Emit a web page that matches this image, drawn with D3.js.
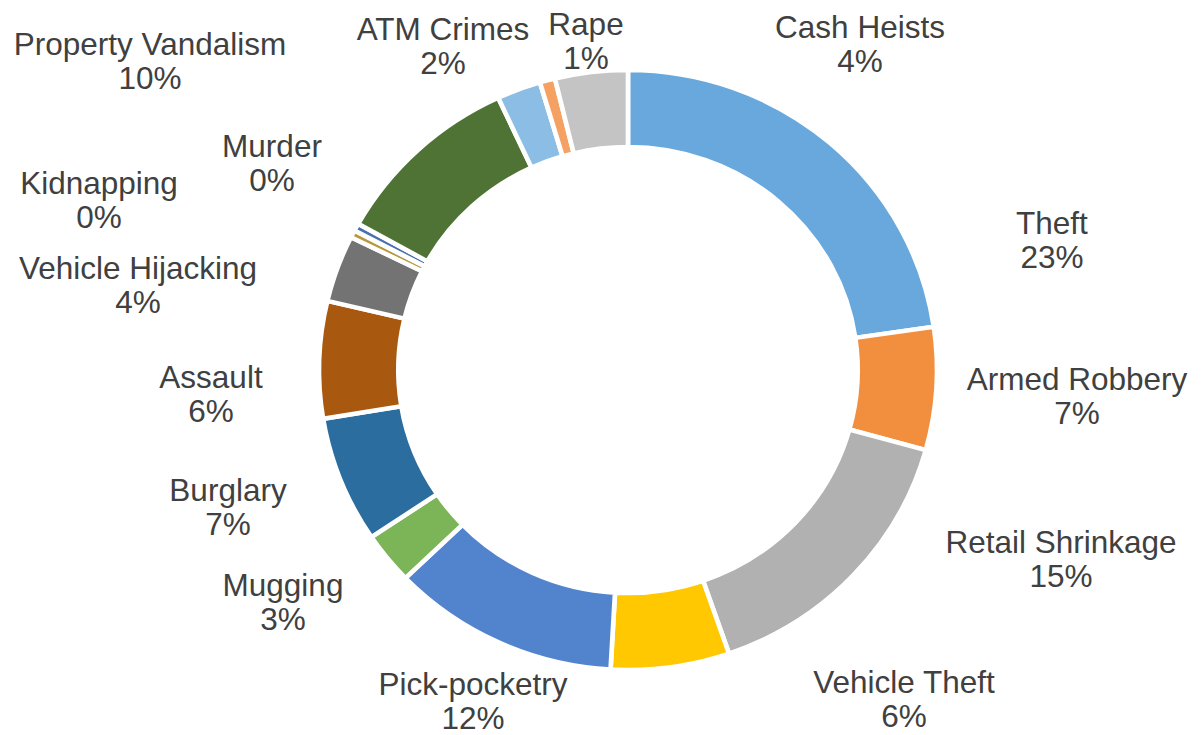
<!DOCTYPE html>
<html>
<head>
<meta charset="utf-8">
<script src="https://cdn.jsdelivr.net/npm/d3@7"></script>
<style>
  html, body { margin: 0; padding: 0; background: #ffffff; }
  svg { display: block; }
</style>
</head>
<body>
<svg id="chart" width="1203" height="735"></svg>
<script>
// ---- data ----
const categories = ["Theft", "Armed Robbery", "Retail Shrinkage", "Vehicle Theft", "Pick-pocketry",
  "Mugging", "Burglary", "Assault", "Vehicle Hijacking", "Kidnapping", "Murder",
  "Property Vandalism", "ATM Crimes", "Rape", "Cash Heists"];
const values = [22.7, 6.6, 15.4, 6.2, 11.9, 2.8, 6.8, 6.3, 3.6, 0.4, 0.4, 10.0, 2.3, 0.8, 3.8];

// ---- styles ----
const colors = ["#69A8DC", "#F28F3F", "#B1B1B1", "#FFC800", "#5284CE", "#7BB557", "#2A6D9E",
  "#A8580F", "#737373", "#B89A3E", "#4A70B0", "#4F7335", "#8CBDE5", "#F4A163", "#C4C4C4"];

// ---- layout: label block centres relative to the donut centre ----
const labelOffsets = [[424, -130], [449, 26], [433, 189], [276, 329], [-155, 331],
  [-345, 232], [-400, 137], [-417, 24], [-490, -85], [-529, -170], [-356, -207],
  [-478, -309], [-185, -324], [-42, -329], [232, -326]];

const W = 1203, H = 735;
const cx = 628, cy = 370;
const outerR = 300, innerR = 223;

const svg = d3.select("#chart");
const total = d3.sum(values);
const data = categories.map((c, i) => ({ name: c, value: values[i], color: colors[i], off: labelOffsets[i] }));

const pie = d3.pie().sort(null).value(d => d.value).startAngle(0).endAngle(2 * Math.PI);
const arc = d3.arc().innerRadius(innerR).outerRadius(outerR);

const ring = svg.append("g").attr("transform", `translate(${cx},${cy}) scale(1.03,1)`);
ring.selectAll("path")
  .data(pie(data))
  .join("path")
  .attr("d", arc)
  .attr("fill", d => d.data.color)
  .attr("stroke", "#ffffff")
  .attr("stroke-width", 4.5)
  .attr("stroke-linejoin", "miter");

const fmt = v => Math.round(v / total * 100) + "%";

const labels = svg.append("g").attr("transform", `translate(${cx},${cy})`)
  .selectAll("text")
  .data(data)
  .join("text")
  .attr("x", d => d.off[0])
  .attr("y", d => d.off[1])
  .attr("text-anchor", "middle")
  .attr("font-family", "'Liberation Sans', Arial, sans-serif")
  .attr("font-size", 31.5)
  .attr("fill", "#404040");

labels.append("tspan")
  .attr("x", d => d.off[0])
  .attr("y", d => d.off[1] - 17)
  .attr("dominant-baseline", "central")
  .text(d => d.name);
labels.append("tspan")
  .attr("x", d => d.off[0])
  .attr("y", d => d.off[1] + 16.5)
  .attr("dominant-baseline", "central")
  .text(d => fmt(d.value));
</script>
</body>
</html>
